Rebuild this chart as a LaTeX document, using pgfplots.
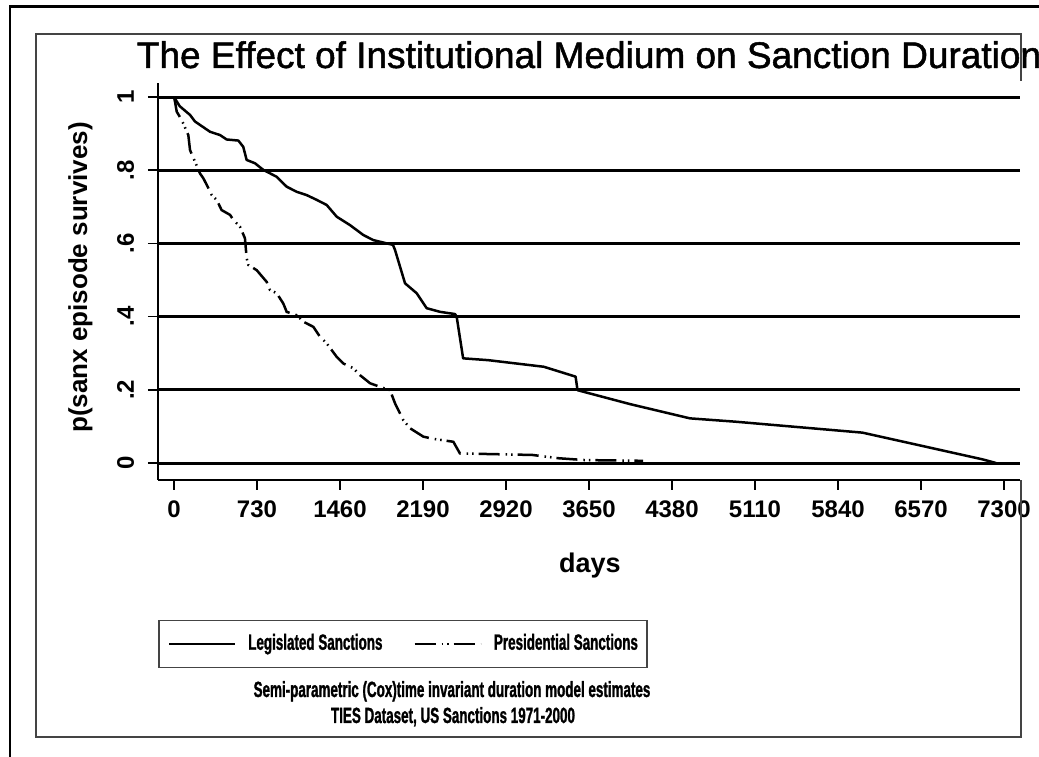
\documentclass[border=0pt]{standalone}
\usepackage{pgfplots}
\pgfplotsset{compat=1.18}
\usepackage{fontspec}
\setmainfont{Liberation Sans}
\newfontfamily\condfont{Liberation Sans}[FakeStretch=0.61, FakeBold=1.2]
\newfontfamily\titlefont{Liberation Sans}[FakeBold=1.3]
\definecolor{framegray}{HTML}{444444}
\begin{document}
\begin{tikzpicture}[x=1pt,y=1pt]
\useasboundingbox (0,0) rectangle (1039,757);
\fill[white] (0,0) rectangle (1039,757);
\begin{axis}[
  at={(158pt,277pt)}, anchor=south west,
  scale only axis, width=862pt, height=397pt,
  xmin=-140.7, xmax=7440.7, ymin=-0.0464, ymax=1.0383,
  axis lines=left, axis line style={-, line width=1.5pt, black},
  xtick={0,730,1460,2190,2920,3650,4380,5110,5840,6570,7300},
  xticklabels={0,730,1460,2190,2920,3650,4380,5110,5840,6570,7300},
  ytick={0,0.2,0.4,0.6,0.8,1},
  yticklabels={0,.2,.4,.6,.8,1},
  tick align=outside, major tick length=10pt,
  tick style={black, line width=1.5pt},
  ymajorgrids, grid style={black, line width=3pt},
  xticklabel style={font=\fontsize{24}{28}\selectfont\bfseries, anchor=north, inner sep=0pt, outer sep=11pt},
  yticklabel style={font=\fontsize{24}{28}\selectfont\bfseries, rotate=90, anchor=south, inner sep=0pt, outer sep=14pt},
  every axis title/.style={at={(axis description cs:0.5,1.0378)}, anchor=base, font=\titlefont\fontsize{37}{44}\selectfont},
  title={The Effect of Institutional Medium on Sanction Duration},
  every axis x label/.style={at={(axis description cs:0.501,-0.234)}, anchor=base, font=\fontsize{27}{32}\selectfont\bfseries},
  every axis y label/.style={at={(axis description cs:-0.09,0.51)}, rotate=90, anchor=center, font=\fontsize{26}{32}\selectfont\bfseries},
  xlabel={days},
  ylabel={p(sanx episode survives)},
  legend columns=2,
  legend image code/.code={\draw[#1] (0pt,0pt) -- (66pt,0pt);},
  legend style={at={(axis description cs:0,-0.3526)}, anchor=north west,
    draw=framegray, line width=1.5pt, inner xsep=9pt, inner ysep=14pt,
    font=\condfont\bfseries\fontsize{22}{24}\selectfont,
    nodes={inner sep=0pt, text height=15pt, text depth=4pt},
    /tikz/every odd column/.append style={column sep=12pt},
    /tikz/every even column/.append style={column sep=31pt}},
]
\addplot[black, line width=2.5pt, line join=round] coordinates {
(0,1) (50,0.975) (141,0.951) (185,0.933) (317,0.905) (405,0.896) (463,0.884)
(566,0.881) (609,0.864) (639,0.828) (712,0.819) (785,0.801) (903,0.782)
(991,0.755) (1079,0.741) (1167,0.732) (1255,0.719) (1343,0.705) (1431,0.673)
(1548,0.650) (1665,0.623) (1753,0.609) (1900,0.598) (1926,0.596) (1944,0.582)
(2032,0.491) (2134,0.464) (2222,0.423) (2340,0.413) (2471,0.407) (2486,0.400)
(2543,0.286) (2764,0.281) (3252,0.263) (3532,0.236) (3549,0.199) (4010,0.161)
(4538,0.122) (4934,0.113) (6055,0.083) (7111,0.010) (7230,0.0)
};
\addlegendentry{Legislated Sanctions}
\addplot[black, line width=2.5pt, dash pattern=on 21pt off 6pt on 1.5pt off 4pt on 1.5pt off 5pt] coordinates {
(0,1) (9,0.987) (24,0.960) (68,0.937) (126,0.896) (141,0.855) (185,0.823)
(229,0.791) (258,0.778) (288,0.760) (332,0.732) (375,0.719) (419,0.691)
(493,0.678) (522,0.664) (580,0.646) (624,0.614) (639,0.560) (654,0.541)
(727,0.527) (815,0.495) (844,0.473) (903,0.464) (961,0.436) (991,0.413)
(1079,0.404) (1138,0.386) (1226,0.372) (1284,0.345) (1343,0.327) (1431,0.290)
(1489,0.272) (1577,0.259) (1636,0.240) (1724,0.218) (1812,0.208) (1900,0.199)
(1944,0.163) (2017,0.117) (2076,0.095) (2193,0.072) (2281,0.066) (2457,0.058)
(2515,0.026) (2691,0.025) (3153,0.022) (3384,0.013) (3615,0.008) (4125,0.006)
};
\addlegendentry{Presidential Sanctions}
\end{axis}
% notes
\node[anchor=base, font=\condfont\bfseries\fontsize{22}{24}\selectfont] at (452,60) {Semi-parametric (Cox)time invariant duration model estimates};
\node[anchor=base, font=\condfont\bfseries\fontsize{22}{24}\selectfont] at (453,34) {TIES Dataset, US Sanctions 1971-2000};
% frames
\draw[black, line width=3pt] (9,750) -- (1039,750);
\draw[black, line width=2pt] (10,751) -- (10,0);
\draw[framegray, line width=1.5pt] (1021,676) -- (1021,723) -- (36,723) -- (36,20) -- (1021,20) -- (1021,277);
\end{tikzpicture}
\end{document}
